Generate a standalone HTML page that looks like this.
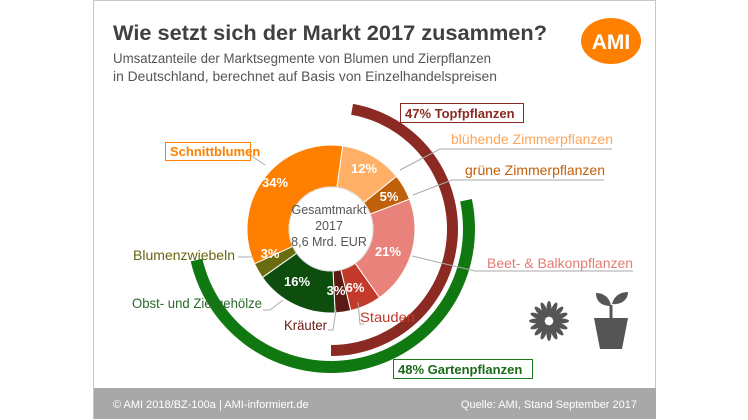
<!DOCTYPE html>
<html><head><meta charset="utf-8"><style>
body{margin:0;background:#fff}
svg{display:block;font-family:"Liberation Sans",sans-serif}
</style></head><body>
<svg id="s" width="748" height="420" viewBox="0 0 748 420">
<rect x="0" y="0" width="748" height="420" fill="#fff"/>
<rect x="93.5" y="0.5" width="562" height="418" fill="#fff" stroke="#c8c8c8"/>
<rect x="94" y="388" width="562" height="31" fill="#a8a8a8"/>
<text x="113" y="408" font-size="11" fill="#fff">© AMI 2018/BZ-100a | AMI-informiert.de</text>
<text x="637" y="408" font-size="11" fill="#fff" text-anchor="end">Quelle: AMI, Stand September 2017</text>
<text x="113" y="40" font-size="21.5" font-weight="bold" fill="#404040" textLength="434" lengthAdjust="spacingAndGlyphs">Wie setzt sich der Markt 2017 zusammen?</text>
<text x="113" y="63" font-size="13.5" fill="#555" textLength="378" lengthAdjust="spacingAndGlyphs">Umsatzanteile der Marktsegmente von Blumen und Zierpflanzen</text>
<text x="113" y="81" font-size="13.5" fill="#555" textLength="384" lengthAdjust="spacingAndGlyphs">in Deutschland, berechnet auf Basis von Einzelhandelspreisen</text>
<ellipse cx="611" cy="41" rx="30" ry="23" fill="#ff8000"/>
<text x="611" y="49" font-size="21" font-weight="bold" fill="#fff" text-anchor="middle">AMI</text>
<g id="g"></g>
<g fill="#fff" font-size="13" font-weight="bold" text-anchor="middle">
<text x="275" y="187">34%</text><text x="364" y="173">12%</text><text x="389" y="201">5%</text>
<text x="388" y="256">21%</text><text x="355" y="292">6%</text><text x="336" y="295">3%</text>
<text x="297" y="286">16%</text><text x="270" y="258">3%</text>
</g>
<g fill="#555" font-size="12.5" text-anchor="middle">
<text x="329" y="214">Gesamtmarkt</text><text x="329" y="230">2017</text><text x="329" y="246">8,6 Mrd. EUR</text>
</g>
<g stroke="#aaa" stroke-width="1" fill="none">
<polyline points="400,170 440,149 612,149"/>
<polyline points="413,195 452,180 604,180"/>
<polyline points="412,256 475,271 633,271"/>
<polyline points="252,257 238,257"/>
<polyline points="283,300 270,310 263,310"/>
<polyline points="336,310 333,330 328,330"/>
<polyline points="358,302 360,324 364,324"/>
<polyline points="250,155 265,165"/>
</g>
<g font-size="14">
<text x="451" y="144" fill="#ffa55a" textLength="162" lengthAdjust="spacingAndGlyphs">blühende Zimmerpflanzen</text>
<text x="465" y="175" fill="#c0600a" textLength="140" lengthAdjust="spacingAndGlyphs">grüne Zimmerpflanzen</text>
<text x="487" y="268" fill="#e47b74" textLength="146" lengthAdjust="spacingAndGlyphs">Beet- &amp; Balkonpflanzen</text>
<text x="133" y="260" fill="#66660f" textLength="102" lengthAdjust="spacingAndGlyphs">Blumenzwiebeln</text>
<text x="132" y="308" fill="#2a6a2a" textLength="130" lengthAdjust="spacingAndGlyphs">Obst- und Ziergehölze</text>
<text x="284" y="330" fill="#6a1a14" textLength="43" lengthAdjust="spacingAndGlyphs">Kräuter</text>
<text x="360" y="322" fill="#c0392b" textLength="55" lengthAdjust="spacingAndGlyphs">Stauden</text>
</g>
<rect x="165.5" y="142.5" width="85" height="18" fill="#fff" stroke="#ff8000"/>
<text x="170" y="156" font-size="13" font-weight="bold" fill="#ff8000">Schnittblumen</text>
<rect x="400.5" y="103.5" width="123" height="19" fill="#fff" stroke="#8b2a22"/>
<text x="405" y="118" font-size="13" font-weight="bold" fill="#8b2a22">47% Topfpflanzen</text>
<rect x="393.5" y="359.5" width="139" height="19" fill="#fff" stroke="#1a7a1a"/>
<text x="398" y="374" font-size="13" font-weight="bold" fill="#1a6a1a">48% Gartenpflanzen</text>
<g fill="#555">
<circle cx="549" cy="321" r="9"/>
<circle cx="549" cy="321" r="5" fill="#fff"/>
<g id="pet"></g>
<path d="M594 318 L628 318 L622 349 L600 349 Z"/>
<path d="M611 318 L611 305" stroke="#555" stroke-width="3"/>
<path d="M611 306 C600 306 596 300 596 293 C604 293 610 298 611 306Z"/>
<path d="M612 304 C614 296 620 292 628 292 C628 300 621 305 612 304Z"/>
</g>
</svg>
<script>
var cx=331,cy=229,NS="http://www.w3.org/2000/svg",g=document.getElementById('g');
function pt(r,a){a=a*Math.PI/180;return [cx+r*Math.sin(a),cy-r*Math.cos(a)];}
function arc(r1,r2,a1,a2,fill,stroke){var p1=pt(r2,a1),p2=pt(r2,a2),p3=pt(r1,a2),p4=pt(r1,a1),l=(a2-a1)>180?1:0;
var d="M"+p1+" A"+r2+","+r2+" 0 "+l+" 1 "+p2+" L"+p3+" A"+r1+","+r1+" 0 "+l+" 0 "+p4+"Z";
var e=document.createElementNS(NS,'path');e.setAttribute('d',d);e.setAttribute('fill',fill);
if(stroke){e.setAttribute('stroke','#fff');e.setAttribute('stroke-width','1');}g.appendChild(e);}
arc(116,127,10,180,"#8b2a22");
arc(132,144,78,257,"#107810");
var sl=[[12,"#ffb066"],[5,"#c0600a"],[21,"#e8827b"],[6,"#c43a2a"],[3,"#5c1a14"],[16,"#0d4d0d"],[3,"#6b6b10"],[34,"#ff8000"]];
var a=8;sl.forEach(function(s){var b=a+s[0]*3.6;arc(42,84,a,b,s[1],1);a=b;});
var c=document.createElementNS(NS,'circle');c.setAttribute('cx',cx);c.setAttribute('cy',cy);c.setAttribute('r',42);c.setAttribute('fill','#fff');c.setAttribute('stroke','#ddd');g.appendChild(c);
var pe=document.getElementById('pet');for(var i=0;i<16;i++){var r=document.createElementNS(NS,'ellipse');r.setAttribute('cx',549);r.setAttribute('cy',309);r.setAttribute('rx',2.5);r.setAttribute('ry',8);r.setAttribute('transform','rotate('+(i*22.5)+' 549 321)');pe.appendChild(r);}
</script>
</body></html>
